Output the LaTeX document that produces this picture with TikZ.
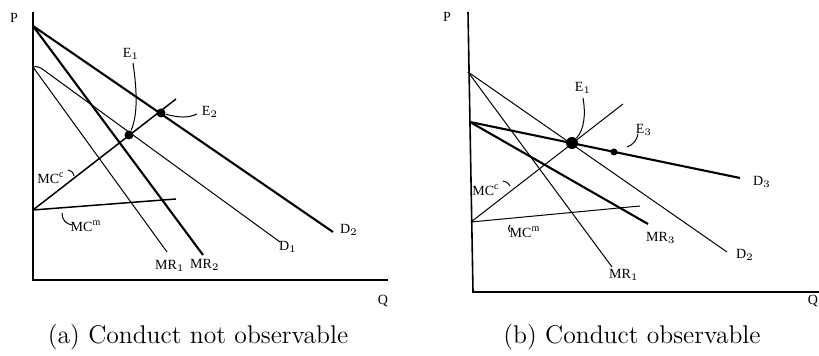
\documentclass[tikz,border=0pt]{standalone}
\usepackage{fontspec}
\newfontfamily\lblfont{Liberation Serif}
\begin{document}
\begin{tikzpicture}[x=0.5pt,y=-0.5pt,
  thinl/.style={line width=0.5pt},
  thickl/.style={line width=1.05pt},
  medl/.style={line width=0.75pt},
  axisl/.style={line width=0.8pt},
  ptr/.style={line width=0.5pt},
  lbl/.style={font=\lblfont\fontsize{7}{8}\selectfont, inner sep=0pt},
  captext/.style={font=\fontsize{12.8}{15}\selectfont, inner sep=0pt},
  dot/.style={circle, fill=black, inner sep=0pt, minimum size=#1}]
\useasboundingbox (0,0) rectangle (819,356);
% ---------- Panel (a) ----------
\coordinate (aTop) at (33,12);
\coordinate (aO) at (33,280);
\coordinate (aR) at (388,280);
\draw[axisl] (aTop) -- (aO) -- (aR);
\coordinate (aA) at (33,26);
\coordinate (aB) at (33,67);
\coordinate (aC) at (33,210);
\coordinate (aD2) at (333,232);
\coordinate (aMR2) at (203,255);
\coordinate (aD1) at (280,242);
\coordinate (aMR1) at (167,252);
\coordinate (aMCc) at (176,99);
\coordinate (aMCm) at (176,199);
\draw[thickl] (aA) -- (aD2);
\draw[thickl] (aA) -- (aMR2);
\draw[thinl] (aB) .. controls (37,66) and (40,67) .. (45,71) -- (aD1);
\draw[thinl] (aB) -- (aMR1);
\draw[medl] (aC) -- (aMCc);
\draw[medl] (aC) -- (aMCm);
\node[dot=4.5pt] (aE1) at (129,135) {};
\node[dot=4.5pt] (aE2) at (161,113) {};
\node[lbl] (aP) at (14,18) {P};
\node[lbl] (aQ) at (383,301) {Q};
\node[lbl] (aE1l) at (131,54) {E$_1$};
\node[lbl] (aE2l) at (210,112) {E$_2$};
\node[lbl] (aD2l) at (349,230) {D$_2$};
\node[lbl] (aD1l) at (288,247) {D$_1$};
\node[lbl] (aMR1l) at (170,266) {MR$_1$};
\node[lbl] (aMR2l) at (205,265) {MR$_2$};
\node[lbl] (aMCcl) at (51,178) {MC\textsuperscript{c}};
\node[lbl] (aMCml) at (86,226) {MC\textsuperscript{m}};
\draw[ptr] (133,63) .. controls (137,90) and (138,115) .. (aE1);
\draw[ptr] (197,114) .. controls (188,118) and (180,118) .. (aE2);
\draw[ptr] (68,170) .. controls (71,170) and (73,172) .. (74,176);
\draw[ptr] (62,213) .. controls (62,220) and (66,224) .. (72,225);
% ---------- Panel (b) ----------
\coordinate (bTop) at (468,12);
\coordinate (bO) at (473,292);
\coordinate (bR) at (822,292);
\draw[axisl] (bTop) -- (bO) -- (bR);
\coordinate (bA) at (468,72);
\coordinate (bB) at (470,122);
\coordinate (bC) at (471,222);
\coordinate (bD2) at (727,252);
\coordinate (bMR1) at (612,267);
\coordinate (bD3) at (740,178);
\coordinate (bMR3) at (648,224);
\coordinate (bMCc) at (623,104);
\coordinate (bMCm) at (640,206);
\draw[thinl] (bA) -- (bD2);
\draw[thinl] (bA) -- (bMR1);
\draw[thickl] (bB) -- (bD3);
\draw[thickl] (bB) -- (bMR3);
\draw[thinl] (bC) -- (bMCc);
\draw[thinl] (bC) -- (bMCm);
\node[dot=6pt] (bE1) at (572,143) {};
\node[dot=3.5pt] (bE3) at (614,152) {};
\node[lbl] (bP) at (447,17) {P};
\node[lbl] (bQ) at (813,301) {Q};
\node[lbl] (bE1l) at (583,88) {E$_1$};
\node[lbl] (bE3l) at (644,130) {E$_3$};
\node[lbl] (bD3l) at (762,182) {D$_3$};
\node[lbl] (bD2l) at (745,255) {D$_2$};
\node[lbl] (bMR3l) at (661,238) {MR$_3$};
\node[lbl] (bMR1l) at (624,275) {MR$_1$};
\node[lbl] (bMCcl) at (486,190) {MC\textsuperscript{c}};
\node[lbl] (bMCml) at (525,232) {MC\textsuperscript{m}};
\draw[ptr] (583,98) .. controls (586,115) and (584,130) .. (bE1);
\draw[ptr] (638,134) .. controls (637,140) and (633,145) .. (627,147);
\draw[ptr] (503,181) .. controls (506,181) and (508,183) .. (510,186);
\draw[ptr] (510,225) .. controls (508,227) and (508,230) .. (510,232);
% ---------- Captions ----------
\node[captext] (capA) at (198,337) {(a) Conduct not observable};
\node[captext] (capB) at (632,337) {(b) Conduct observable};
\end{tikzpicture}
\end{document}
